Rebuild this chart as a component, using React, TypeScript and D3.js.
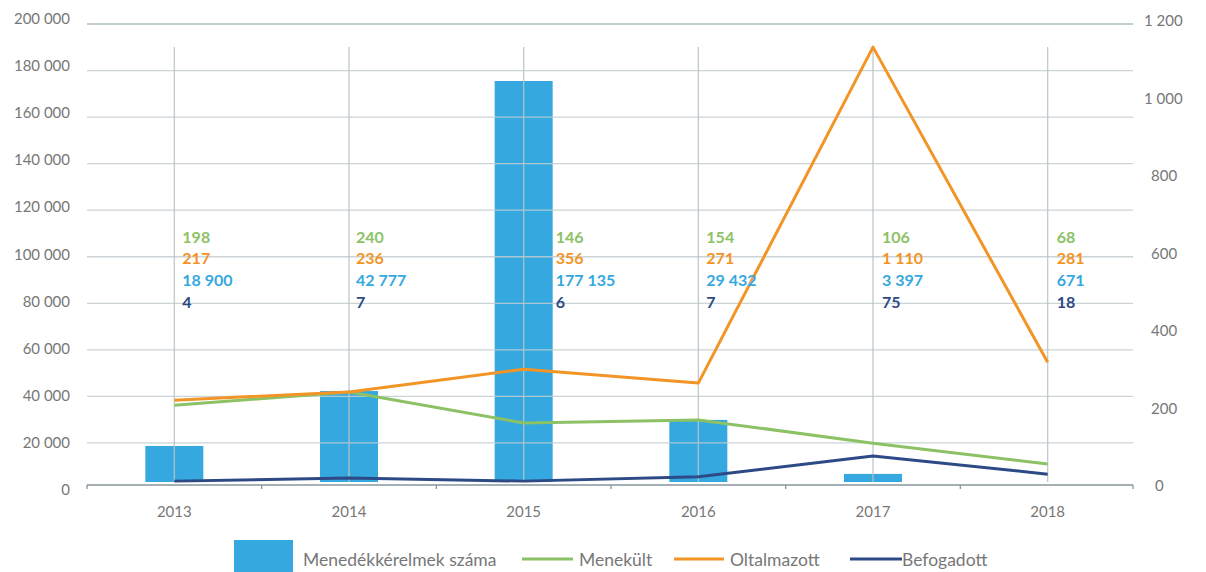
import React from "react";
import * as d3 from "d3";

const years = ["2013", "2014", "2015", "2016", "2017", "2018"];
// bar series as drawn (left axis)
const applications = [18700, 42300, 175500, 29900, 6700, 671];
// line series as drawn (right axis)
const menekultLine = [206, 240, 160, 168, 108, 54];
const oltalmazottLine = [219, 240, 299, 263, 1130, 317];
const befogadottLine = [10, 18, 10, 21, 75, 28];
// data label values
const menekultLabels = ["198", "240", "146", "154", "106", "68"];
const oltalmazottLabels = ["217", "236", "356", "271", "1 110", "281"];
const applicationLabels = ["18 900", "42 777", "177 135", "29 432", "3 397", "671"];
const befogadottLabels = ["4", "7", "6", "7", "75", "18"];
const leftTicks = [0, 20000, 40000, 60000, 80000, 100000, 120000, 140000, 160000, 180000, 200000];
const rightTicks = [0, 200, 400, 600, 800, 1000, 1200];

const labelDx = [8, 7, 32, 8, 9, 9];

const W = 1206;
const H = 572;
const FONT = "Lato, 'Source Sans Pro', 'Noto Sans', sans-serif";
const BLUE = "#35a8e0";
const GREEN = "#8cc265";
const ORANGE = "#f39426";
const NAVY = "#2d4a86";
const TEXT = "#777";

const fmt = (v: number) => d3.format(",")(v).replace(/,/g, " ");

export default function App() {
  const x = d3.scaleBand<string>().domain(years).range([87, 1135]);
  const yL = d3.scaleLinear().domain([0, 200000]).range([489.5, 24]);
  const yLabel = d3.scaleLinear().domain([0, 200000]).range([489, 18]);
  const yR = d3.scaleLinear().domain([0, 1200]).range([485, 20]);
  const cx = (y: string) => (x(y) as number) + x.bandwidth() / 2;
  const barW = 58;
  const barBottom = 482;
  const axisY = 485;

  const line = d3
    .line<number>()
    .x((_, i) => cx(years[i]))
    .y((d) => yR(d));

  const series = [
    { vals: menekultLine, color: GREEN },
    { vals: oltalmazottLine, color: ORANGE },
    { vals: befogadottLine, color: NAVY },
  ];

  const labelRows = [
    { vals: menekultLabels, color: GREEN },
    { vals: oltalmazottLabels, color: ORANGE },
    { vals: applicationLabels, color: BLUE },
    { vals: befogadottLabels, color: NAVY },
  ];

  return (
    <svg
      width={W}
      height={H}
      style={{ position: "absolute", left: 0, top: 0, background: "#fff" }}
      fontFamily={FONT}
    >
      {/* bars */}
      {applications.map((v, i) => {
        const top = yL(v);
        const h = barBottom - top;
        if (h <= 0) return null;
        return (
          <rect
            key={"b" + i}
            x={cx(years[i]) - barW / 2}
            y={top}
            width={barW}
            height={h}
            fill={BLUE}
          />
        );
      })}
      {/* horizontal gridlines */}
      {leftTicks
        .filter((t) => t > 0)
        .map((t) => (
          <line
            key={"g" + t}
            x1={87}
            x2={1133}
            y1={yL(t)}
            y2={yL(t)}
            stroke={t === 200000 ? "#9fb3b5" : "#c3cdd0"}
            strokeOpacity={0.85}
            strokeWidth={1.3}
          />
        ))}
      {/* vertical gridlines */}
      {years.map((y) => (
        <line
          key={"v" + y}
          x1={cx(y)}
          x2={cx(y)}
          y1={47}
          y2={barBottom}
          stroke="#b9c4c7"
          strokeOpacity={0.9}
          strokeWidth={1.3}
        />
      ))}
      {/* x axis */}
      <line x1={87} x2={1133} y1={axisY} y2={axisY} stroke="#86969a" strokeWidth={1.5} />
      {[...years.map((y) => x(y) as number), 1133].map((t, i) => (
        <line key={"t" + i} x1={t} x2={t} y1={axisY} y2={axisY + 4} stroke="#86969a" strokeWidth={1.3} />
      ))}
      {years.map((y) => (
        <text
          key={"xl" + y}
          x={cx(y)}
          y={511}
          textAnchor="middle"
          dominantBaseline="central"
          fontSize={15}
          fill={TEXT}
        >
          {y}
        </text>
      ))}
      {/* left axis labels */}
      {leftTicks.map((t) => (
        <text
          key={"ll" + t}
          x={70}
          y={yLabel(t)}
          textAnchor="end"
          dominantBaseline="central"
          fontSize={15}
          fill={TEXT}
        >
          {fmt(t)}
        </text>
      ))}
      {/* right axis labels */}
      {rightTicks.map((t) => (
        <text
          key={"rl" + t}
          x={t >= 1000 ? 1144 : t === 0 ? 1155 : 1151}
          y={yR(t)}
          textAnchor="start"
          dominantBaseline="central"
          fontSize={15}
          fill={TEXT}
        >
          {fmt(t)}
        </text>
      ))}
      {/* lines */}
      {series.map((s, i) => (
        <path
          key={"l" + i}
          d={line(s.vals) as string}
          fill="none"
          stroke={s.color}
          strokeWidth={3}
          strokeLinejoin="round"
        />
      ))}
      {/* data labels */}
      {labelRows.map((row, r) =>
        row.vals.map((v, i) => (
          <text
            key={"d" + r + "-" + i}
            x={cx(years[i]) + labelDx[i]}
            y={236 + r * 21.7}
            dominantBaseline="central"
            fontSize={16}
            fontWeight={700}
            fill={row.color}
          >
            {v}
          </text>
        ))
      )}
      {/* legend */}
      <rect x={234} y={540} width={59} height={32} fill={BLUE} />
      <text x={303} y={559} dominantBaseline="central" fontSize={17.5} fill={TEXT}>
        Menedékkérelmek száma
      </text>
      <line x1={522} x2={573} y1={559} y2={559} stroke={GREEN} strokeWidth={3} />
      <text x={579} y={559} dominantBaseline="central" fontSize={17.5} fill={TEXT}>
        Menekült
      </text>
      <line x1={674} x2={724} y1={559} y2={559} stroke={ORANGE} strokeWidth={3} />
      <text x={730} y={559} dominantBaseline="central" fontSize={17.5} fill={TEXT}>
        Oltalmazott
      </text>
      <line x1={850} x2={902} y1={559} y2={559} stroke={NAVY} strokeWidth={3} />
      <text x={902} y={559} dominantBaseline="central" fontSize={17.5} fill={TEXT}>
        Befogadott
      </text>
    </svg>
  );
}
